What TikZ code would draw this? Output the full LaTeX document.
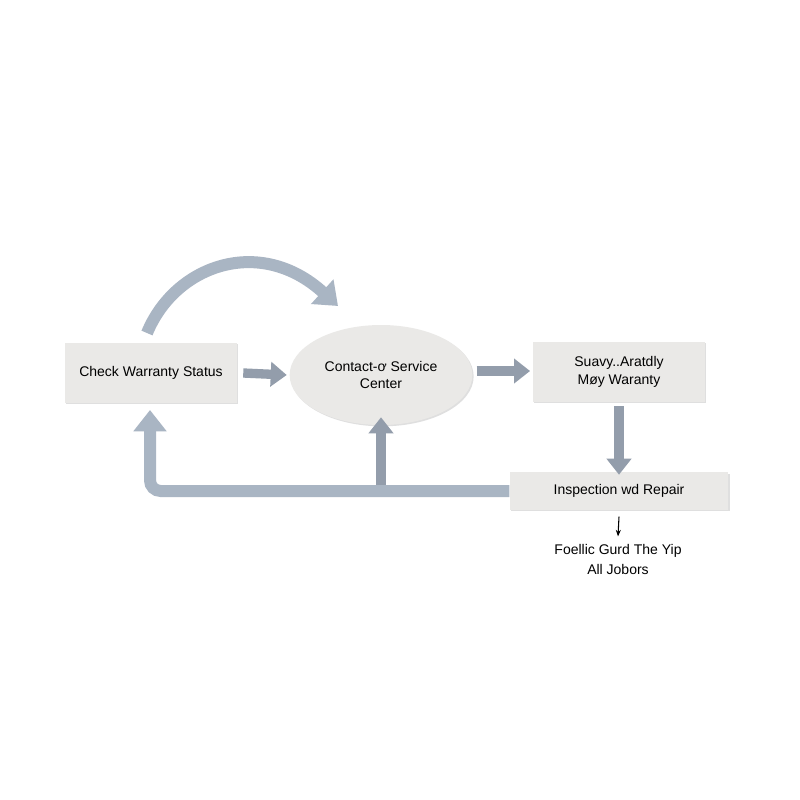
\documentclass[tikz,border=0pt]{standalone}
\usepackage{fontspec}
\setmainfont{Liberation Sans}
\usetikzlibrary{shapes.geometric,arrows.meta,shadows}
\definecolor{boxfill}{HTML}{EAE9E7}
\definecolor{arrA}{HTML}{A9B5C3}
\definecolor{arrB}{HTML}{939DAB}
\begin{document}
\begin{tikzpicture}[x=0.75pt,y=-0.75pt,
  box/.style={draw=none,fill=boxfill,drop shadow={opacity=0.25,shadow xshift=1pt,shadow yshift=-1pt},font=\fontsize{10.5}{13}\selectfont,align=center,inner sep=0pt},
  fat/.style={draw=arrA,line width=9pt,-{Triangle[length=16pt,width=24pt]}},
  mid/.style={draw=arrB,line width=7pt,-{Triangle[length=12pt,width=18pt]}}]
\useasboundingbox (0,0) rectangle (800,800);
\fill[white] (0,0) rectangle (800,800);
\node[box,minimum width=129pt,minimum height=45pt] (a) at (151,373) {Check Warranty Status};
\node[box,ellipse,minimum width=137pt,minimum height=75pt] (b) at (381,375) {Contact-ơ Service\\Center};
\node[box,minimum width=129pt,minimum height=45pt] (c) at (619,372) {Suavy..Aratdly\\Møy Waranty};
\node[box,minimum width=164pt,minimum height=28pt] (d) at (619,491) {Inspection wd Repair};
\node[font=\fontsize{10.5}{15}\selectfont,align=center] (e) at (618,559) {Foellic Gurd The Yip\\All Jobors};
\coordinate (loopc) at (150,491);
\coordinate (loopt) at (150,410);
\coordinate (upb) at (381,486);
\coordinate (cs) at (147,333);
\coordinate (ce) at (338,306);
\draw[mid] (a.east)++(6,0) -- ([xshift=-2]b.west);
\draw[mid] ([xshift=3pt,yshift=3pt]b.east) -- ([xshift=-2pt,yshift=0.75pt]c.west);
\draw[mid] (c.south)++(0,4) -- ([yshift=-2]d.north);
\draw[mid] (upb) -- ([yshift=6]b.south);
\draw[fat,rounded corners=8pt] (d.west) -- (loopc) -- (loopt);
\draw[fat] (cs) .. controls (175,265) and (260,235) .. (ce);
\draw[-{Stealth[length=5pt]},line width=0.8pt] ([yshift=-5]d.south) -- ([yshift=2]e.north);
\end{tikzpicture}
\end{document}
